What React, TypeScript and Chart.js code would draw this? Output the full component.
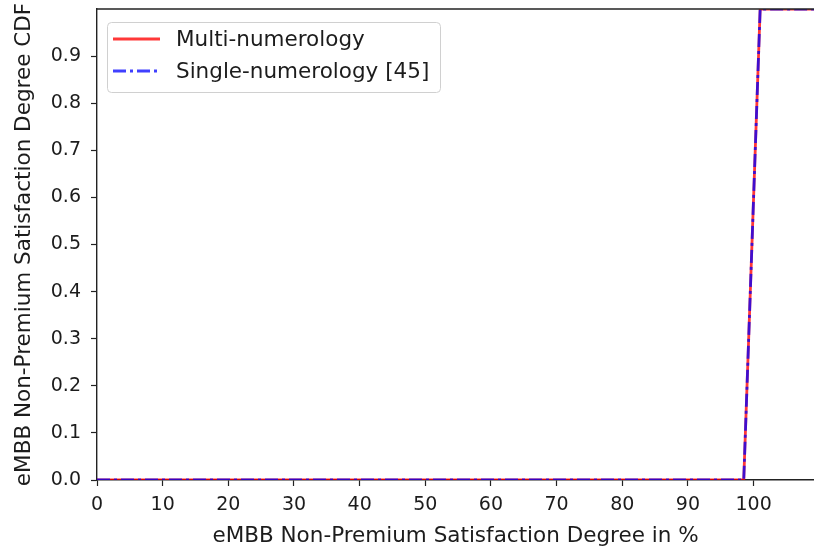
import React, { useEffect, useRef } from "react";
import { Chart, registerables } from "chart.js";

Chart.register(...registerables);

const xValues = [0, 98.5, 101, 110];
const multiNumerologyCdf = [0, 0, 1, 1];
const singleNumerologyCdf = [0, 0, 1, 1];
const xTickValues = [0, 10, 20, 30, 40, 50, 60, 70, 80, 90, 100];
const yTickValues = [0, 0.1, 0.2, 0.3, 0.4, 0.5, 0.6, 0.7, 0.8, 0.9];
const seriesLabels = ["Multi-numerology", "Single-numerology [45]"];
const xTitle = "eMBB Non-Premium Satisfaction Degree in %";
const yTitle = "eMBB Non-Premium Satisfaction Degree CDF";

const FONT = "'DejaVu Sans', sans-serif";
const TEXT = "#1c1c1c";
const RED = "rgba(255,0,0,0.78)";
const BLUE = "rgba(0,0,255,0.75)";
const DASHDOT = [13, 4, 3, 4];

const framePlugin = {
  id: "frame",
  afterDraw(chart: any) {
    const { ctx, chartArea } = chart;
    ctx.save();
    ctx.strokeStyle = "#222";
    ctx.lineWidth = 1.4;
    ctx.beginPath();
    ctx.moveTo(chartArea.left, chartArea.top);
    ctx.lineTo(chartArea.right + 2, chartArea.top);
    ctx.stroke();

    // legend
    const bx = 107.5, by = 22.5, bw = 333, bh = 70, r = 4;
    ctx.fillStyle = "rgba(255,255,255,0.8)";
    ctx.strokeStyle = "#d0d0d0";
    ctx.lineWidth = 1;
    ctx.beginPath();
    ctx.moveTo(bx + r, by);
    ctx.lineTo(bx + bw - r, by);
    ctx.quadraticCurveTo(bx + bw, by, bx + bw, by + r);
    ctx.lineTo(bx + bw, by + bh - r);
    ctx.quadraticCurveTo(bx + bw, by + bh, bx + bw - r, by + bh);
    ctx.lineTo(bx + r, by + bh);
    ctx.quadraticCurveTo(bx, by + bh, bx, by + bh - r);
    ctx.lineTo(bx, by + r);
    ctx.quadraticCurveTo(bx, by, bx + r, by);
    ctx.closePath();
    ctx.fill();
    ctx.stroke();

    const rows = [
      { label: seriesLabels[0], color: RED, dash: [] as number[], y: 39 },
      { label: seriesLabels[1], color: BLUE, dash: DASHDOT, y: 71 },
    ];
    ctx.font = `21.5px ${FONT}`;
    ctx.textBaseline = "middle";
    ctx.textAlign = "left";
    for (const row of rows) {
      ctx.strokeStyle = row.color;
      ctx.lineWidth = 2.8;
      ctx.setLineDash(row.dash);
      ctx.beginPath();
      ctx.moveTo(113, row.y);
      ctx.lineTo(160, row.y);
      ctx.stroke();
      ctx.setLineDash([]);
      ctx.fillStyle = TEXT;
      ctx.fillText(row.label, 176, row.y + 1);
    }
    ctx.restore();
  },
};

export default function App() {
  const ref = useRef<HTMLCanvasElement | null>(null);

  useEffect(() => {
    if (!ref.current) return;
    const chart = new Chart(ref.current, {
      type: "line",
      data: {
        datasets: [
          {
            label: seriesLabels[0],
            data: xValues.map((x, i) => ({ x, y: multiNumerologyCdf[i] })),
            borderColor: RED,
            borderWidth: 2.8,
            pointRadius: 0,
            tension: 0,
            order: 2,
          },
          {
            label: seriesLabels[1],
            data: xValues.map((x, i) => ({ x, y: singleNumerologyCdf[i] })),
            borderColor: BLUE,
            borderWidth: 2.8,
            borderDash: DASHDOT,
            pointRadius: 0,
            tension: 0,
            order: 1,
          },
        ],
      },
      plugins: [framePlugin],
      options: {
        responsive: false,
        animation: false,
        layout: { padding: { left: 0, top: 9, right: 0, bottom: 0 } },
        plugins: { legend: { display: false }, tooltip: { enabled: false } },
        scales: {
          x: {
            type: "linear",
            min: 0,
            max: 109.2,
            afterBuildTicks: (s: any) => {
              s.ticks = xTickValues.map((v) => ({ value: v }));
            },
            afterFit: (s: any) => {
              s.height = 72;
              s.paddingLeft = 0;
              s.paddingRight = 0;
            },
            ticks: {
              color: TEXT,
              font: { family: FONT, size: 19 },
              padding: 8,
              maxRotation: 0,
              autoSkip: false,
              callback: (v: any) => String(v),
            },
            grid: { drawOnChartArea: false, drawTicks: true, tickLength: 6, color: "#222", tickWidth: 1.2 },
            border: { display: true, color: "#222", width: 1.4 },
            title: {
              display: true,
              text: xTitle,
              color: TEXT,
              font: { family: FONT, size: 21.5 },
              padding: { top: 0, bottom: 3 },
            },
          },
          y: {
            type: "linear",
            min: 0,
            max: 1.0,
            afterBuildTicks: (s: any) => {
              s.ticks = yTickValues.map((v) => ({ value: v }));
            },
            afterFit: (s: any) => {
              s.width = 97;
              s.paddingTop = 0;
              s.paddingBottom = 0;
            },
            ticks: {
              color: TEXT,
              font: { family: FONT, size: 19 },
              padding: 10,
              autoSkip: false,
              callback: (v: any) => Number(v).toFixed(1),
            },
            grid: { drawOnChartArea: false, drawTicks: true, tickLength: 6, color: "#222", tickWidth: 1.2 },
            border: { display: true, color: "#222", width: 1.4 },
            title: {
              display: true,
              text: yTitle,
              color: TEXT,
              font: { family: FONT, size: 21.5 },
              padding: { top: 12, bottom: 0 },
            },
          },
        },
      },
    });
    return () => chart.destroy();
  }, []);

  return (
    <div style={{ position: "fixed", left: 0, top: 0, width: 814, height: 552, background: "#fff" }}>
      <canvas ref={ref} width={814} height={552} style={{ width: 814, height: 552 }} />
    </div>
  );
}
